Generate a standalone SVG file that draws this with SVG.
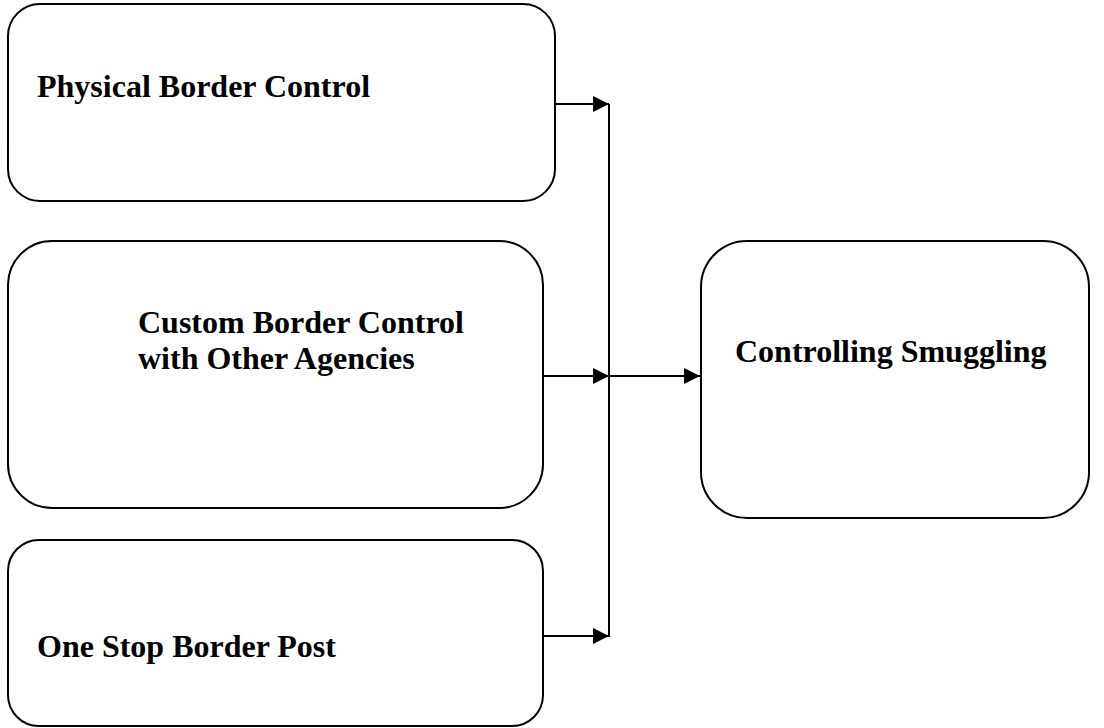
<svg xmlns="http://www.w3.org/2000/svg" width="1104" height="728" viewBox="0 0 1104 728">
<defs>
<marker id="ah" markerUnits="userSpaceOnUse" markerWidth="16" markerHeight="16" refX="16" refY="8" orient="auto" viewBox="0 0 16 16">
<path d="M0,0 L16,8 L0,16 Z" fill="#000"/>
</marker>
<style>
.box{fill:#fff;stroke:#000;stroke-width:2}
.t{font-family:"Liberation Serif","Times New Roman",serif;font-weight:bold;font-size:32px;fill:#000}
.c{fill:none;stroke:#000;stroke-width:2}
</style>
</defs>
<rect width="1104" height="728" fill="#fff"/>
<g id="physical">
<rect class="box" x="8" y="4" width="547" height="197" rx="32" ry="32"/>
<text class="t" x="37" y="97">Physical Border Control</text>
</g>
<g id="custom">
<rect class="box" x="8" y="241" width="535" height="267" rx="44" ry="44"/>
<text class="t" x="138" y="333">Custom Border Control</text>
<text class="t" x="138" y="369">with Other Agencies</text>
</g>
<g id="onestop">
<rect class="box" x="8" y="540" width="535" height="186" rx="31" ry="31"/>
<text class="t" x="37" y="657">One Stop Border Post</text>
</g>
<g id="smuggling">
<rect class="box" x="701" y="241" width="388" height="277" rx="46" ry="46"/>
<text class="t" x="735" y="362">Controlling Smuggling</text>
</g>
<g id="connectors">
<line class="c" x1="609" y1="104" x2="609" y2="637"/>
<line class="c" x1="555" y1="104" x2="609" y2="104" marker-end="url(#ah)"/>
<line class="c" x1="543" y1="376" x2="609" y2="376" marker-end="url(#ah)"/>
<line class="c" x1="543" y1="636" x2="609" y2="636" marker-end="url(#ah)"/>
<line class="c" x1="609" y1="376" x2="700" y2="376" marker-end="url(#ah)"/>
</g>
</svg>
